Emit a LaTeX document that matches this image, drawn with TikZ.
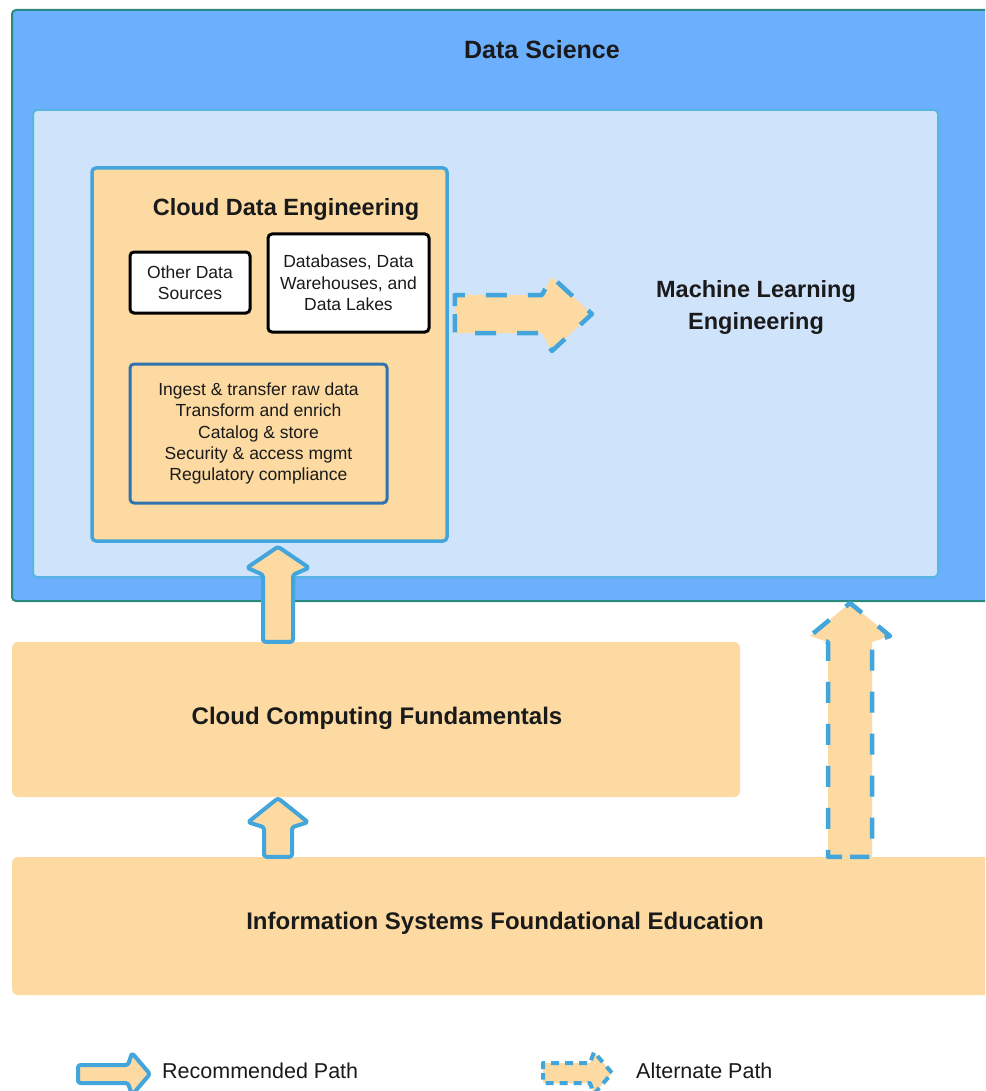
\documentclass[tikz,border=0pt]{standalone}
\usepackage{fontspec}
\setmainfont{Liberation Sans}
\usetikzlibrary{calc}

\definecolor{dsfill}{HTML}{6BAFFD}
\definecolor{dsedge}{HTML}{2B8A7E}
\definecolor{mlfill}{HTML}{CFE3FB}
\definecolor{mledge}{HTML}{58B4E0}
\definecolor{peach}{HTML}{FCDAA2}
\definecolor{cyanedge}{HTML}{42A6DC}
\definecolor{listedge}{HTML}{2F73B0}
\definecolor{ink}{HTML}{1A1A1A}

% fat block arrow pointing up: style, base point, tip point,
% half body width, half head width, head length, wing offset
% (outline starts at the middle of the tail)
\newcommand\fatuparrow[7]{%
  \draw[#1] let \p1=(#2), \p2=(#3) in
    (\x1,\y1) -- (\x1-#4pt,\y1) -- (\x1-#4pt,\y2-#6pt-#7pt) -- (\x1-#5pt,\y2-#6pt)
    -- (\x1,\y2) -- (\x1+#5pt,\y2-#6pt) -- (\x1+#4pt,\y2-#6pt-#7pt)
    -- (\x1+#4pt,\y1) -- cycle;}
% same, pointing right
\newcommand\fatrightarrow[7]{%
  \draw[#1] let \p1=(#2), \p2=(#3) in
    (\x1,\y2) -- (\x1,\y2+#4pt) -- (\x2-#6pt-#7pt,\y2+#4pt) -- (\x2-#6pt,\y2+#5pt)
    -- (\x2,\y2) -- (\x2-#6pt,\y2-#5pt) -- (\x2-#6pt-#7pt,\y2-#4pt)
    -- (\x1,\y2-#4pt) -- cycle;}

\begin{document}
\begin{tikzpicture}[x=1pt,y=-1pt,
  box/.style={rectangle, inner sep=0pt, rounded corners=4pt},
  titletext/.style={font=\fontsize{23.5}{32}\selectfont\bfseries, text=ink, align=center, inner sep=0pt},
  smalltext/.style={font=\fontsize{17.5}{21.3}\selectfont, text=ink, align=center},
  legendtext/.style={font=\fontsize{21.5}{26}\selectfont, text=ink, anchor=west, inner sep=0pt},
  solidpath/.style={fill=peach, draw=cyanedge, line width=4pt, line join=round, rounded corners=2.5pt},
  altpath/.style={fill=peach, draw=cyanedge, line width=4.5pt, line join=round,
    dash pattern=on 21pt off 21pt, dash phase=34pt},
  altsmall/.style={fill=peach, draw=cyanedge, line width=4pt, line join=round,
    dash pattern=on 8pt off 6pt, dash phase=10pt}]

\useasboundingbox (0,0) rectangle (985,1091);
\clip (0,0) rectangle (985,1091);
\fill[white] (0,0) rectangle (985,1091);

% Data Science frame
\node[box, fill=dsfill, draw=dsedge, line width=2pt,
      minimum width=983pt, minimum height=591pt] (ds) at (503.5,305.5) {};
\node[titletext, font=\fontsize{25}{30}\selectfont\bfseries] (dstitle) at (542,50) {Data Science};

% Machine Learning Engineering area
\node[box, fill=mlfill, draw=mledge, line width=2pt,
      minimum width=905pt, minimum height=467pt] (mle) at (485.5,343.5) {};
\node[titletext] (mltext) at (756,307) {Machine Learning\\Engineering};

% Cloud Data Engineering
\node[box, fill=peach, draw=cyanedge, line width=3.5pt,
      minimum width=355pt, minimum height=373pt] (cde) at (269.5,354.5) {};
\node[titletext] (cdetitle) at (286,209) {Cloud Data Engineering};

\node[box, fill=white, draw=black, line width=3pt, smalltext,
      minimum width=120pt, minimum height=61pt] (ods) at (190,282.5) {Other Data\\Sources};
\node[box, fill=white, draw=black, line width=3pt, smalltext,
      minimum width=161pt, minimum height=98pt] (dbs) at (348.5,283) {Databases, Data\\Warehouses, and\\Data Lakes};
\node[box, fill=peach, draw=listedge, line width=3pt, smalltext,
      minimum width=257pt, minimum height=139pt] (tasks) at (258.5,433.5)
      {Ingest \& transfer raw data\\Transform and enrich\\Catalog \& store\\Security \& access mgmt\\Regulatory compliance};

% Foundations
\node[box, fill=peach, rounded corners=6pt,
      minimum width=728pt, minimum height=155pt] (ccf) at (376,719.5) {};
\node[titletext, font=\fontsize{24}{30}\selectfont\bfseries] (ccftext) at (377,718) {Cloud Computing Fundamentals};
\node[box, fill=peach, rounded corners=6pt,
      minimum width=983pt, minimum height=138pt] (isfe) at (503.5,926) {};
\node[titletext, font=\fontsize{24}{30}\selectfont\bfseries] (isfetext) at (505,923) {Information Systems Foundational Education};

% path connectors
\coordinate (recx) at (278,0);
\coordinate (altx) at (850,0);
\coordinate (alty) at (0,314);

\fatuparrow{solidpath}{recx |- ccf.north}{$(recx |- cde.south)+(0,4)$}{15}{31}{21}{7}
\fatuparrow{solidpath}{recx |- isfe.north}{$(recx |- ccf.south)+(0,1)$}{14}{30}{24}{5}
\fatuparrow{altpath}{altx |- isfe.north}{$(altx |- ds.south)+(0,1)$}{22}{40}{33}{6}
\fatrightarrow{altpath}{$(cde.east |- alty)+(6,0)$}{$(mltext.west |- alty)+(-64,0)$}{19}{37}{40}{10}

% legend
\coordinate (recA) at (78,1074);
\coordinate (recB) at (150,1074);
\coordinate (altA) at (543,1073);
\coordinate (altB) at (612,1073);
\fatrightarrow{solidpath}{recA}{recB}{9}{21}{18}{4}
\fatrightarrow{altsmall}{altA}{altB}{10}{21}{18}{4}
\node[legendtext] (reclabel) at (162,1071) {Recommended Path};
\node[legendtext] (altlabel) at (636,1071) {Alternate Path};

\end{tikzpicture}
\end{document}
